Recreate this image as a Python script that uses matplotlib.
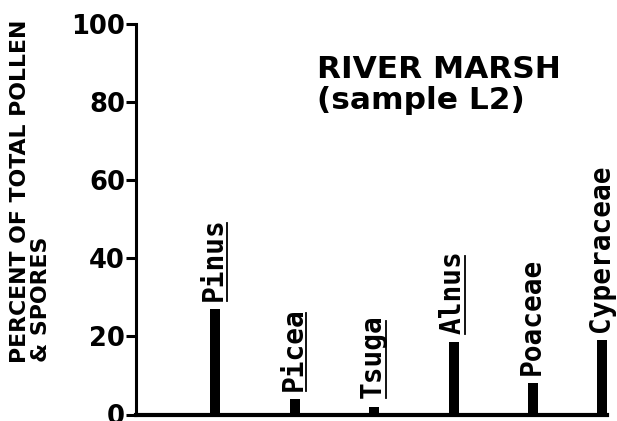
import matplotlib
matplotlib.use('Agg')
import matplotlib.pyplot as plt
from matplotlib.lines import Line2D

# data
taxa = ['Pinus', 'Picea', 'Tsuga', 'Alnus', 'Poaceae', 'Cyperaceae']
percent = [27, 4, 2, 18.5, 8, 19]
italic_taxa = ['Pinus', 'Picea', 'Tsuga', 'Alnus']   # genera, underlined
yticks = [0, 20, 40, 60, 80, 100]

title1 = 'RIVER MARSH'
title2 = '(sample L2)'
ylab1 = 'PERCENT OF TOTAL POLLEN'
ylab2 = '& SPORES'

# layout
xpos = [1, 2, 3, 4, 5, 5.87]

fig = plt.figure(figsize=(6.17, 4.21), dpi=100)
ax = fig.add_axes([136/617, 1 - 414.5/421, (607 - 136)/617, (414.5 - 24)/421])

ax.bar(xpos, percent, width=0.126, color='black')
ax.set_xlim(0, 5.93)
ax.set_ylim(0, 100)

for s in ['top', 'right']:
    ax.spines[s].set_visible(False)
ax.spines['left'].set_linewidth(2.2)
ax.spines['bottom'].set_linewidth(3)
ax.set_xticks([])
ax.set_yticks(yticks)
ax.tick_params(axis='y', length=7, width=2.2, pad=1, labelsize=18.5)
for lbl in ax.get_yticklabels():
    lbl.set_fontweight('heavy')

labels = []
for x, v, name in zip(xpos, percent, taxa):
    t = ax.annotate(name, (x, v), xytext=(-1, 6), textcoords='offset points',
                    rotation=90, ha='center', va='bottom',
                    family='DejaVu Sans Mono', fontweight='bold', fontsize=20)
    labels.append(t)

fig.text(317/617, 1 - 78/421, title1, ha='left', va='baseline',
         fontsize=22.5, fontweight='bold')
fig.text(317/617, 1 - 109/421, title2, ha='left', va='baseline',
         fontsize=22.5, fontweight='bold')

fig.text(10/617, 1 - 363/421, ylab1, rotation=90, ha='left', va='bottom',
         fontsize=15.8, fontweight='bold')
fig.text(31/617, 1 - 362/421, ylab2, rotation=90, ha='left', va='bottom',
         fontsize=15.8, fontweight='bold')

# underline the genus names (drawn beside the rotated text)
fig.canvas.draw()
r = fig.canvas.get_renderer()
for t, name in zip(labels, taxa):
    if name in italic_taxa:
        bb = t.get_window_extent(r)
        ux = bb.x1 - 1
        fig.add_artist(Line2D([ux/617, ux/617], [bb.y0/421, (bb.y1 - 6)/421],
                              transform=fig.transFigure, color='black', lw=1.3))

fig.savefig('out.png', dpi=100)
